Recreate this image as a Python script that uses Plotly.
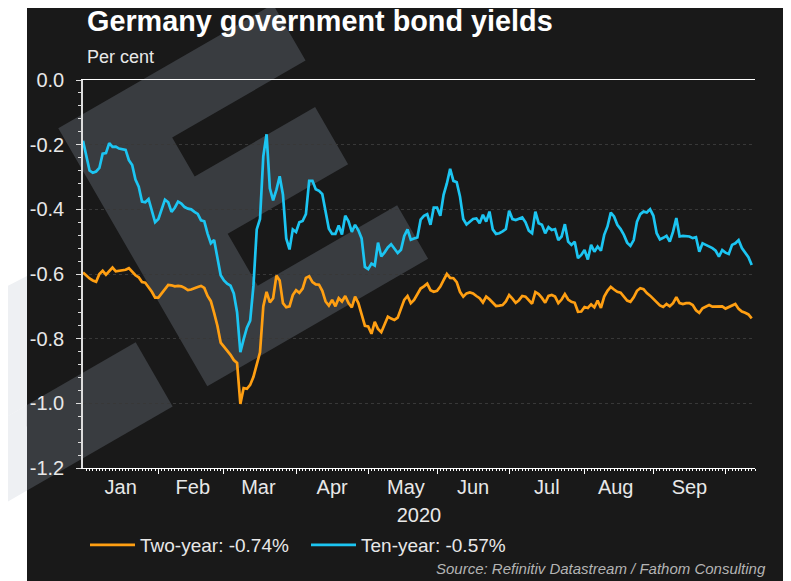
import pandas as pd
import plotly.graph_objects as go

# canvas + plot box in pixels (figure coords; page adds an 8px body margin)
W, H = 791, 581
OFF = 8
L, R, T, B = 75, 44, 72, 121

# business days Jan 1 - Oct 13 2020
dates = pd.bdate_range("2020-01-01", "2020-10-13")

two_year = [
    -0.595, -0.606, -0.614, -0.62, -0.624, -0.6, -0.59, -0.602, -0.59, -0.58,
    -0.592, -0.591, -0.59, -0.587, -0.582, -0.594, -0.604, -0.61, -0.625, -0.627,
    -0.64, -0.655, -0.673, -0.673, -0.66, -0.646, -0.634, -0.635, -0.638, -0.637,
    -0.638, -0.643, -0.65, -0.648, -0.643, -0.64, -0.637, -0.643, -0.668, -0.684,
    -0.72, -0.76, -0.812, -0.825, -0.835, -0.85, -0.866, -0.875, -1.002, -0.953,
    -0.955, -0.943, -0.918, -0.882, -0.842, -0.7, -0.655, -0.688, -0.675, -0.605,
    -0.62, -0.69, -0.703, -0.7, -0.665, -0.65, -0.658, -0.645, -0.612, -0.607,
    -0.625, -0.632, -0.633, -0.652, -0.685, -0.698, -0.68, -0.7, -0.675, -0.685,
    -0.668, -0.69, -0.703, -0.67, -0.69, -0.725, -0.76, -0.762, -0.785, -0.748,
    -0.77, -0.78, -0.755, -0.732, -0.738, -0.742, -0.735, -0.705, -0.68, -0.668,
    -0.69, -0.68, -0.662, -0.645, -0.638, -0.63, -0.65, -0.655, -0.652, -0.639,
    -0.619, -0.6, -0.612, -0.613, -0.625, -0.655, -0.67, -0.66, -0.657, -0.66,
    -0.668, -0.675, -0.688, -0.67, -0.678, -0.688, -0.699, -0.698, -0.696, -0.685,
    -0.665, -0.676, -0.689, -0.681, -0.668, -0.67, -0.68, -0.692, -0.656, -0.662,
    -0.674, -0.689, -0.668, -0.665, -0.67, -0.69, -0.679, -0.662, -0.679, -0.686,
    -0.689, -0.717, -0.716, -0.702, -0.705, -0.694, -0.703, -0.682, -0.705, -0.67,
    -0.652, -0.64, -0.648, -0.655, -0.658, -0.67, -0.682, -0.686, -0.672, -0.652,
    -0.644, -0.647, -0.659, -0.667, -0.678, -0.687, -0.697, -0.702, -0.693, -0.7,
    -0.69, -0.672, -0.69, -0.693, -0.69, -0.69, -0.696, -0.712, -0.72, -0.706,
    -0.701, -0.696, -0.701, -0.701, -0.699, -0.7, -0.707, -0.702, -0.699, -0.693,
    -0.708, -0.716, -0.72, -0.725, -0.737,
]

ten_year = [
    -0.188, -0.23, -0.28, -0.287, -0.283, -0.272, -0.228, -0.226, -0.195, -0.207,
    -0.206, -0.212, -0.213, -0.216, -0.248, -0.263, -0.308, -0.33, -0.376, -0.378,
    -0.368, -0.402, -0.44, -0.43, -0.4, -0.37, -0.378, -0.408, -0.395, -0.376,
    -0.382, -0.393, -0.398, -0.4, -0.408, -0.414, -0.434, -0.437, -0.475, -0.505,
    -0.495, -0.552, -0.604, -0.62, -0.63, -0.636, -0.66, -0.718, -0.842, -0.802,
    -0.766, -0.744, -0.636, -0.462, -0.43, -0.236, -0.168, -0.335, -0.372, -0.34,
    -0.298, -0.355, -0.49, -0.524, -0.462, -0.47, -0.44, -0.436, -0.415, -0.312,
    -0.312, -0.338, -0.343, -0.353, -0.408, -0.46, -0.476, -0.476, -0.45, -0.478,
    -0.42, -0.437, -0.47, -0.448, -0.465, -0.49, -0.578, -0.585, -0.568, -0.574,
    -0.503, -0.546, -0.533, -0.518, -0.508, -0.523, -0.535, -0.525, -0.482, -0.462,
    -0.494, -0.49, -0.487, -0.432, -0.42, -0.415, -0.448, -0.395, -0.395, -0.42,
    -0.355, -0.32, -0.275, -0.312, -0.316, -0.36, -0.43, -0.447, -0.437, -0.43,
    -0.428, -0.443, -0.417, -0.438, -0.407, -0.462, -0.476, -0.474, -0.468, -0.461,
    -0.404, -0.43, -0.433, -0.428, -0.425, -0.44, -0.466, -0.474, -0.407, -0.443,
    -0.448, -0.474, -0.455, -0.464, -0.461, -0.495, -0.484, -0.446, -0.5, -0.51,
    -0.5, -0.551, -0.541, -0.526, -0.555, -0.51, -0.531, -0.515, -0.528, -0.479,
    -0.453, -0.41, -0.422, -0.448, -0.461, -0.479, -0.503, -0.513, -0.495, -0.438,
    -0.415, -0.407, -0.41, -0.4, -0.42, -0.474, -0.493, -0.488, -0.482, -0.5,
    -0.469, -0.427, -0.484, -0.482, -0.483, -0.484, -0.489, -0.486, -0.531, -0.505,
    -0.51, -0.515, -0.52, -0.528, -0.546, -0.526, -0.534, -0.538, -0.51, -0.505,
    -0.495, -0.52, -0.534, -0.548, -0.572,
]

names = ["Two-year", "Ten-year"]
latest = [-0.74, -0.57]
colors = ["#ff9f12", "#1cc5f2"]
y_ticks = [0.0, -0.2, -0.4, -0.6, -0.8, -1.0, -1.2]

FONT = "Liberation Sans, Arial, sans-serif"
PANEL = "#191919"
LOGO = "#393c40"
LOGO_LIGHT = "#eef0f3"


# page pixel -> paper fraction
def pxx(x):
    return (x - OFF - L) / (W - L - R)


def pxy(y):
    return (H - B - (y - OFF)) / (H - T - B)


# logo drawn in its own rotated frame: a along the arms, b along the stem
def logo_path(pts):
    out = []
    for a, b in pts:
        x = 58.3 + 0.866 * a + 0.5 * b
        y = 128.3 - 0.5 * a + 0.866 * b
        out.append(f"{pxx(x):.4f},{pxy(y):.4f}")
    return "M" + " L".join(out) + " Z"


e_shape = [(0, 0), (248, 0), (248, 65), (94, 65), (94, 110), (233, 110), (233, 176),
           (94, 176), (94, 236), (255, 236), (255, 298), (0, 298)]
band_dark = [(-40, 224), (-40, 298), (-208.2, 298), (-165.5, 224)]
band_light = [(-165.5, 224), (-208.2, 298), (-239.4, 298), (-196.7, 224)]

shapes = [
    dict(type="path", path=logo_path(band_light), fillcolor=LOGO_LIGHT, line_width=0),
    dict(type="path",
         path=f"M{pxx(0)},{pxy(290)} L{pxx(27)},{pxy(276)} L{pxx(27)},{pxy(405)} L{pxx(0)},{pxy(421)} Z",
         fillcolor=LOGO_LIGHT, line_width=0),
    dict(type="rect", x0=pxx(27), x1=pxx(783), y0=pxy(0), y1=pxy(600),
         fillcolor=PANEL, line_width=0),
    dict(type="path", path=logo_path(e_shape), fillcolor=LOGO, line_width=0),
    dict(type="path", path=logo_path(band_dark), fillcolor=LOGO, line_width=0),
]
for s in shapes:
    s.update(xref="paper", yref="paper", layer="below")

fig = go.Figure()
for name, val, col, ys in zip(names, latest, colors, [two_year, ten_year]):
    fig.add_trace(go.Scatter(
        x=dates, y=ys, mode="lines", name=f"{name}: {val:.2f}%",
        line=dict(color=col, width=2.7),
    ))

fig.update_layout(
    width=W, height=H,
    margin=dict(l=L, r=R, t=T, b=B),
    paper_bgcolor="white",
    plot_bgcolor="rgba(0,0,0,0)",
    font=dict(family=FONT, color="#e8e8e8", size=20),
    shapes=shapes,
    showlegend=True,
    legend=dict(
        orientation="h", x=pxx(85), y=pxy(545), xanchor="left", yanchor="middle",
        font=dict(size=19, color="#e8e8e8"), bgcolor="rgba(0,0,0,0)",
        itemwidth=45, entrywidth=161, traceorder="normal",
    ),
    annotations=[
        dict(text="<b>Germany government bond yields</b>", x=pxx(85), y=pxy(21),
             xref="paper", yref="paper", xanchor="left", yanchor="middle",
             showarrow=False, font=dict(size=28.8, color="white")),
        dict(text="Per cent", x=pxx(85), y=pxy(57), xref="paper", yref="paper",
             xanchor="left", yanchor="middle", showarrow=False,
             font=dict(size=18, color="#e8e8e8")),
        dict(text="<i>Source: Refinitiv Datastream / Fathom Consulting</i>",
             x=pxx(768), y=pxy(568), xref="paper", yref="paper",
             xanchor="right", yanchor="middle", showarrow=False,
             font=dict(size=15, color="#b4b4b4")),
    ],
)

fig.update_xaxes(
    type="date", range=["2020-01-01", "2020-10-14"],
    rangebreaks=[dict(bounds=["sat", "mon"])],
    tick0="2020-01-01", dtick="M1", tickformat="%b", ticklabelmode="period",
    ticks="outside", ticklen=5, tickcolor="white", tickwidth=1,
    showline=True, linecolor="white", linewidth=1, mirror=True,
    showgrid=False, zeroline=False,
    minor=dict(dtick=86400000, ticks="outside", ticklen=2, tickcolor="white", showgrid=False),
    tickfont=dict(size=20, color="#e8e8e8"), ticklabelstandoff=-4,
    title=dict(text="2020", font=dict(size=20, color="#e8e8e8"), standoff=10),
)

fig.update_yaxes(
    range=[-1.2, 0], tickmode="array", tickvals=y_ticks,
    ticktext=[f"{v:.1f}" for v in y_ticks],
    ticks="outside", ticklen=5, tickcolor="#dddddd", tickwidth=1,
    showline=True, linecolor="#dddddd", linewidth=1.5,
    showgrid=True, gridcolor="#383838", griddash="3px,3px", gridwidth=1,
    zeroline=False,
    minor=dict(tick0=0, dtick=0.04, ticks="outside", ticklen=3, tickcolor="#dddddd", showgrid=False),
    tickfont=dict(size=20, color="#e8e8e8"), ticklabelstandoff=8,
)

fig.write_html("out.html")
